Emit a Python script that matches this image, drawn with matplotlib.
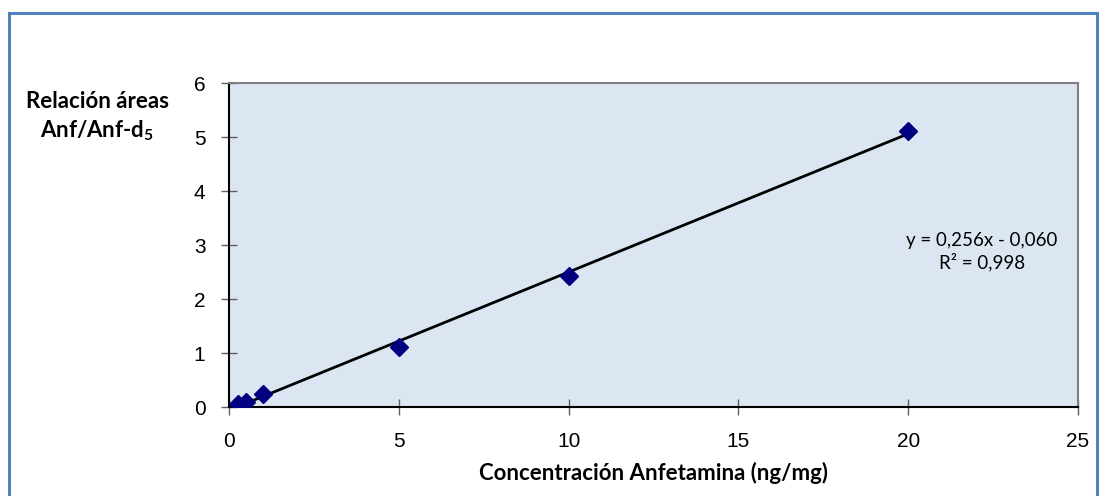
import matplotlib.pyplot as plt
from matplotlib.lines import Line2D
import numpy as np

# Calibration data: amphetamine concentration vs area ratio
conc = [0.25, 0.5, 1, 5, 10, 20]
area_ratio = [0.06, 0.10, 0.24, 1.11, 2.43, 5.12]
slope = 0.256
intercept = -0.060
r2 = 0.998

x_ticks = [0, 5, 10, 15, 20, 25]
y_ticks = [0, 1, 2, 3, 4, 5, 6]

plt.rcParams['mathtext.fontset'] = 'custom'
plt.rcParams['mathtext.rm'] = 'Lato:bold'
plt.rcParams['mathtext.bf'] = 'Lato:bold'

fig = plt.figure(figsize=(11, 4.96), dpi=100)
ax = fig.add_axes([0.2082, 0.1794, 0.7718, 0.6532])
ax.set_facecolor('#DCE6F2')

# regression line over the data range
xl = np.array([min(conc), max(conc)])
ax.plot(xl, slope * xl + intercept, color='black', lw=2, zorder=2)
ax.plot(conc, area_ratio, linestyle='none', marker='D', markersize=9,
        color='#000080', zorder=3)

ax.set_xlim(0, 25)
ax.set_ylim(0, 6)
ax.set_xticks(x_ticks)
ax.set_yticks(y_ticks)
ax.tick_params(direction='inout', length=12, width=1, color='#606060',
               labelsize=15)
ax.tick_params(axis='x', pad=12)
ax.tick_params(axis='y', pad=11)
for lab in ax.get_xticklabels() + ax.get_yticklabels():
    lab.set_family('Liberation Sans')

for side in ['top', 'right']:
    ax.spines[side].set_color('#808080')
    ax.spines[side].set_linewidth(1.5)
for side in ['left', 'bottom']:
    ax.spines[side].set_color('#000000')
    ax.spines[side].set_linewidth(1.5)

ax.set_xlabel('Concentración Anfetamina (ng/mg)', fontsize=16,
              fontweight='bold', family='Lato', labelpad=8)
fig.text(97 / 1100, 1 - 117 / 496, 'Relación áreas\nAnf/Anf-d$_{\\mathbf{5}}$',
         ha='center', va='center', fontsize=16, fontweight='bold',
         family='Lato', linespacing=1.3)

sign = '-' if intercept < 0 else '+'
eq = f'y = {slope:.3f}x {sign} {abs(intercept):.3f}'.replace('.', ',')
r2_text = f'R² = {r2:.3f}'.replace('.', ',')
ax.text(0.887, 0.48, eq + '\n' + r2_text, transform=ax.transAxes,
        ha='center', va='center', fontsize=13.5, family='Lato',
        linespacing=1.2)

# blue chart-area frame (bottom edge falls outside the canvas)
frame_c = '#4F81BD'
x0, x1 = 9 / 1100, 1097 / 1100
y0 = 1 - 13 / 496
for xs, ys in [([x0, x1], [y0, y0]), ([x0, x0], [y0, -0.1]),
               ([x1, x1], [y0, -0.1])]:
    fig.add_artist(Line2D(xs, ys, color=frame_c, lw=2.2,
                          transform=fig.transFigure))

fig.savefig('out.png', dpi=100)
